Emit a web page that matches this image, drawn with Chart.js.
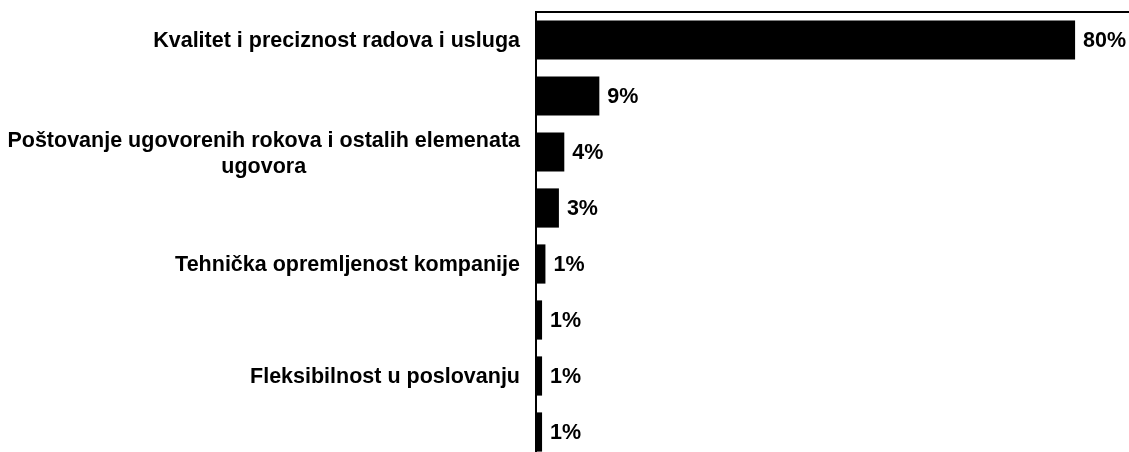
<!DOCTYPE html>
<html>
<head>
<meta charset="utf-8">
<script src="https://cdn.jsdelivr.net/npm/chart.js@4.4.0/dist/chart.umd.min.js"></script>
<style>
  html, body { margin: 0; padding: 0; background: #fff; overflow: hidden; }
  #wrap { width: 1129px; height: 460px; }
</style>
</head>
<body>
<div id="wrap"><canvas id="canvas"></canvas></div>
<script>
// category names (every other one is blank in the source chart)
var categories = [
  "Kvalitet i preciznost radova i usluga",
  "",
  ["Poštovanje ugovorenih rokova i ostalih elemenata", "ugovora"],
  "",
  "Tehnička opremljenost kompanije",
  "",
  "Fleksibilnost u poslovanju",
  ""
];

// share of answers, in percent
var shares = [80, 9.4, 4.2, 3.4, 1.4, 0.9, 0.9, 0.9];

// labels shown next to the bars
var shareLabels = ["80%", "9%", "4%", "3%", "1%", "1%", "1%", "1%"];

var labelFont = "bold 21.5px 'Liberation Sans', Arial, sans-serif";

// draw category names left of the axis, multi-line ones centred on each other
var categoryLabels = {
  id: "categoryLabels",
  afterDraw: function (chart) {
    var ctx = chart.ctx;
    var yScale = chart.scales.y;
    var right = chart.chartArea.left - 16;
    ctx.save();
    ctx.font = labelFont;
    ctx.fillStyle = "#000";
    ctx.textBaseline = "middle";
    ctx.textAlign = "center";
    categories.forEach(function (label, i) {
      var lines = Array.isArray(label) ? label : [label];
      var widest = 0;
      lines.forEach(function (l) {
        widest = Math.max(widest, ctx.measureText(l).width);
      });
      var cx = right - widest / 2;
      var lineHeight = 26;
      var y0 = yScale.getPixelForTick(i) + 1 - (lines.length - 1) * (lineHeight / 2 - 1);
      lines.forEach(function (l, k) {
        ctx.fillText(l, cx, y0 + k * lineHeight);
      });
    });
    ctx.restore();
  }
};

// value labels at the end of each bar
var valueLabels = {
  id: "valueLabels",
  afterDatasetsDraw: function (chart) {
    var ctx = chart.ctx;
    var meta = chart.getDatasetMeta(0);
    ctx.save();
    ctx.font = labelFont;
    ctx.fillStyle = "#000";
    ctx.textBaseline = "middle";
    ctx.textAlign = "left";
    meta.data.forEach(function (bar, i) {
      ctx.fillText(shareLabels[i], bar.x + 8, bar.y + 1);
    });
    ctx.restore();
  }
};

var ctx = document.getElementById("canvas").getContext("2d");
var chart = new Chart(ctx, {
  type: "bar",
  data: {
    labels: categories,
    datasets: [{
      data: shares,
      backgroundColor: "#000",
      borderWidth: 0,
      categoryPercentage: 1,
      barPercentage: 0.7
    }]
  },
  options: {
    indexAxis: "y",
    responsive: true,
    maintainAspectRatio: false,
    animation: false,
    layout: { padding: { left: 528, top: 4, right: 0, bottom: 0 } },
    plugins: {
      legend: { display: false },
      tooltip: { enabled: false }
    },
    scales: {
      x: {
        position: "top",
        min: 0,
        max: 88,
        grid: { display: false },
        ticks: { display: false },
        border: { display: true, color: "#000", width: 2 }
      },
      y: {
        grid: { display: false },
        ticks: { display: false },
        border: { display: true, color: "#000", width: 2 }
      }
    }
  },
  plugins: [categoryLabels, valueLabels]
});
</script>
</body>
</html>
